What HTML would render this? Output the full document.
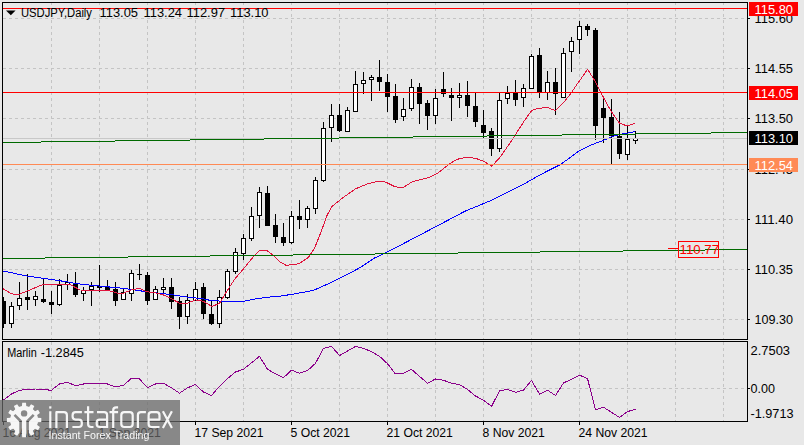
<!DOCTYPE html>
<html><head><meta charset="utf-8"><title>USDJPY Daily</title>
<style>
html,body{margin:0;padding:0;background:#e8e8e8;}
body{width:804px;height:445px;overflow:hidden;font-family:"Liberation Sans",sans-serif;}
svg{display:block;}
</style></head><body>
<svg width="804" height="445" viewBox="0 0 804 445">
<rect x="0" y="0" width="804" height="445" fill="#e8e8e8"/>
<path d="M51.5 2V339M51.5 342V421M99.5 2V339M99.5 342V421M147.5 2V339M147.5 342V421M195.5 2V339M195.5 342V421M243.5 2V339M243.5 342V421M291.5 2V339M291.5 342V421M339.5 2V339M339.5 342V421M387.5 2V339M387.5 342V421M435.5 2V339M435.5 342V421M483.5 2V339M483.5 342V421M531.5 2V339M531.5 342V421M579.5 2V339M579.5 342V421M627.5 2V339M627.5 342V421M675.5 2V339M675.5 342V421M723.5 2V339M723.5 342V421M3 18.5H747M3 68.5H747M3 118.5H747M3 169.5H747M3 219.5H747M3 269.5H747M3 319.5H747M3 388.5H747" stroke="#c4c4c4" stroke-width="1" stroke-dasharray="3 3" fill="none" shape-rendering="crispEdges"/>
<rect x="3" y="297" width="1" height="31" fill="#000"/><rect x="3" y="301" width="3" height="23" fill="#000"/>
<rect x="11" y="302" width="1" height="26" fill="#000"/>
<rect x="9" y="306" width="5" height="18" fill="#000"/>
<rect x="10" y="307" width="3" height="16" fill="#fff"/>
<rect x="19" y="282" width="1" height="28" fill="#000"/>
<rect x="17" y="298" width="5" height="8" fill="#000"/>
<rect x="18" y="299" width="3" height="6" fill="#fff"/>
<rect x="27" y="274" width="1" height="36" fill="#000"/>
<rect x="25" y="297" width="5" height="3" fill="#000"/>
<rect x="35" y="291" width="1" height="15" fill="#000"/>
<rect x="33" y="296" width="5" height="4" fill="#000"/>
<rect x="34" y="297" width="3" height="2" fill="#fff"/>
<rect x="43" y="279" width="1" height="24" fill="#000"/>
<rect x="41" y="299" width="5" height="3" fill="#000"/>
<rect x="51" y="291" width="1" height="23" fill="#000"/>
<rect x="49" y="302" width="5" height="3" fill="#000"/>
<rect x="59" y="279" width="1" height="27" fill="#000"/>
<rect x="57" y="285" width="5" height="20" fill="#000"/>
<rect x="58" y="286" width="3" height="18" fill="#fff"/>
<rect x="67" y="274" width="1" height="16" fill="#000"/>
<rect x="65" y="282" width="5" height="3" fill="#000"/>
<rect x="66" y="283" width="3" height="1" fill="#fff"/>
<rect x="75" y="272" width="1" height="25" fill="#000"/>
<rect x="73" y="284" width="5" height="11" fill="#000"/>
<rect x="83" y="287" width="1" height="14" fill="#000"/>
<rect x="81" y="290" width="5" height="4" fill="#000"/>
<rect x="82" y="291" width="3" height="2" fill="#fff"/>
<rect x="91" y="282" width="1" height="24" fill="#000"/>
<rect x="89" y="286" width="5" height="4" fill="#000"/>
<rect x="90" y="287" width="3" height="2" fill="#fff"/>
<rect x="99" y="265" width="1" height="27" fill="#000"/>
<rect x="97" y="286" width="5" height="2" fill="#000"/>
<rect x="107" y="280" width="1" height="10" fill="#000"/>
<rect x="105" y="286" width="5" height="4" fill="#000"/>
<rect x="115" y="282" width="1" height="24" fill="#000"/>
<rect x="113" y="289" width="5" height="12" fill="#000"/>
<rect x="123" y="288" width="1" height="12" fill="#000"/>
<rect x="121" y="292" width="5" height="8" fill="#000"/>
<rect x="122" y="293" width="3" height="6" fill="#fff"/>
<rect x="131" y="270" width="1" height="31" fill="#000"/>
<rect x="129" y="273" width="5" height="21" fill="#000"/>
<rect x="130" y="274" width="3" height="19" fill="#fff"/>
<rect x="139" y="264" width="1" height="16" fill="#000"/>
<rect x="137" y="274" width="5" height="1" fill="#000"/>
<rect x="147" y="272" width="1" height="33" fill="#000"/>
<rect x="145" y="275" width="5" height="26" fill="#000"/>
<rect x="155" y="286" width="1" height="14" fill="#000"/>
<rect x="153" y="289" width="5" height="11" fill="#000"/>
<rect x="154" y="290" width="3" height="9" fill="#fff"/>
<rect x="163" y="278" width="1" height="15" fill="#000"/>
<rect x="161" y="287" width="5" height="3" fill="#000"/>
<rect x="162" y="288" width="3" height="1" fill="#fff"/>
<rect x="171" y="278" width="1" height="31" fill="#000"/>
<rect x="169" y="287" width="5" height="15" fill="#000"/>
<rect x="179" y="297" width="1" height="32" fill="#000"/>
<rect x="177" y="301" width="5" height="16" fill="#000"/>
<rect x="187" y="294" width="1" height="30" fill="#000"/>
<rect x="185" y="300" width="5" height="17" fill="#000"/>
<rect x="186" y="301" width="3" height="15" fill="#fff"/>
<rect x="195" y="282" width="1" height="19" fill="#000"/>
<rect x="193" y="289" width="5" height="12" fill="#000"/>
<rect x="194" y="290" width="3" height="10" fill="#fff"/>
<rect x="203" y="283" width="1" height="36" fill="#000"/>
<rect x="201" y="287" width="5" height="27" fill="#000"/>
<rect x="211" y="300" width="1" height="25" fill="#000"/>
<rect x="209" y="314" width="5" height="10" fill="#000"/>
<rect x="219" y="290" width="1" height="38" fill="#000"/>
<rect x="217" y="297" width="5" height="27" fill="#000"/>
<rect x="218" y="298" width="3" height="25" fill="#fff"/>
<rect x="227" y="269" width="1" height="30" fill="#000"/>
<rect x="225" y="271" width="5" height="27" fill="#000"/>
<rect x="226" y="272" width="3" height="25" fill="#fff"/>
<rect x="235" y="248" width="1" height="26" fill="#000"/>
<rect x="233" y="252" width="5" height="20" fill="#000"/>
<rect x="234" y="253" width="3" height="18" fill="#fff"/>
<rect x="243" y="234" width="1" height="26" fill="#000"/>
<rect x="241" y="238" width="5" height="16" fill="#000"/>
<rect x="242" y="239" width="3" height="14" fill="#fff"/>
<rect x="251" y="207" width="1" height="34" fill="#000"/>
<rect x="249" y="216" width="5" height="23" fill="#000"/>
<rect x="250" y="217" width="3" height="21" fill="#fff"/>
<rect x="259" y="187" width="1" height="41" fill="#000"/>
<rect x="257" y="192" width="5" height="24" fill="#000"/>
<rect x="258" y="193" width="3" height="22" fill="#fff"/>
<rect x="267" y="186" width="1" height="40" fill="#000"/>
<rect x="265" y="193" width="5" height="33" fill="#000"/>
<rect x="275" y="214" width="1" height="29" fill="#000"/>
<rect x="273" y="225" width="5" height="12" fill="#000"/>
<rect x="283" y="223" width="1" height="23" fill="#000"/>
<rect x="281" y="237" width="5" height="6" fill="#000"/>
<rect x="291" y="211" width="1" height="33" fill="#000"/>
<rect x="289" y="216" width="5" height="27" fill="#000"/>
<rect x="290" y="217" width="3" height="25" fill="#fff"/>
<rect x="299" y="200" width="1" height="29" fill="#000"/>
<rect x="297" y="216" width="5" height="4" fill="#000"/>
<rect x="307" y="206" width="1" height="22" fill="#000"/>
<rect x="305" y="208" width="5" height="12" fill="#000"/>
<rect x="306" y="209" width="3" height="10" fill="#fff"/>
<rect x="315" y="177" width="1" height="37" fill="#000"/>
<rect x="313" y="180" width="5" height="29" fill="#000"/>
<rect x="314" y="181" width="3" height="27" fill="#fff"/>
<rect x="323" y="122" width="1" height="60" fill="#000"/>
<rect x="321" y="128" width="5" height="53" fill="#000"/>
<rect x="322" y="129" width="3" height="51" fill="#fff"/>
<rect x="331" y="104" width="1" height="38" fill="#000"/>
<rect x="329" y="115" width="5" height="13" fill="#000"/>
<rect x="330" y="116" width="3" height="11" fill="#fff"/>
<rect x="339" y="104" width="1" height="28" fill="#000"/>
<rect x="337" y="115" width="5" height="16" fill="#000"/>
<rect x="347" y="107" width="1" height="25" fill="#000"/>
<rect x="345" y="110" width="5" height="22" fill="#000"/>
<rect x="346" y="111" width="3" height="20" fill="#fff"/>
<rect x="355" y="71" width="1" height="41" fill="#000"/>
<rect x="353" y="84" width="5" height="28" fill="#000"/>
<rect x="354" y="85" width="3" height="26" fill="#fff"/>
<rect x="363" y="72" width="1" height="22" fill="#000"/>
<rect x="361" y="80" width="5" height="4" fill="#000"/>
<rect x="362" y="81" width="3" height="2" fill="#fff"/>
<rect x="371" y="75" width="1" height="26" fill="#000"/>
<rect x="369" y="77" width="5" height="3" fill="#000"/>
<rect x="370" y="78" width="3" height="1" fill="#fff"/>
<rect x="379" y="60" width="1" height="31" fill="#000"/>
<rect x="377" y="77" width="5" height="5" fill="#000"/>
<rect x="387" y="74" width="1" height="38" fill="#000"/>
<rect x="385" y="82" width="5" height="15" fill="#000"/>
<rect x="395" y="84" width="1" height="39" fill="#000"/>
<rect x="393" y="96" width="5" height="24" fill="#000"/>
<rect x="403" y="98" width="1" height="23" fill="#000"/>
<rect x="401" y="109" width="5" height="8" fill="#000"/>
<rect x="402" y="110" width="3" height="6" fill="#fff"/>
<rect x="411" y="79" width="1" height="32" fill="#000"/>
<rect x="409" y="87" width="5" height="22" fill="#000"/>
<rect x="410" y="88" width="3" height="20" fill="#fff"/>
<rect x="419" y="83" width="1" height="41" fill="#000"/>
<rect x="417" y="87" width="5" height="17" fill="#000"/>
<rect x="427" y="100" width="1" height="30" fill="#000"/>
<rect x="425" y="103" width="5" height="13" fill="#000"/>
<rect x="435" y="89" width="1" height="35" fill="#000"/>
<rect x="433" y="98" width="5" height="18" fill="#000"/>
<rect x="434" y="99" width="3" height="16" fill="#fff"/>
<rect x="443" y="72" width="1" height="25" fill="#000"/>
<rect x="441" y="89" width="5" height="5" fill="#000"/>
<rect x="451" y="88" width="1" height="33" fill="#000"/>
<rect x="449" y="95" width="5" height="3" fill="#000"/>
<rect x="459" y="83" width="1" height="25" fill="#000"/>
<rect x="457" y="95" width="5" height="3" fill="#000"/>
<rect x="458" y="96" width="3" height="1" fill="#fff"/>
<rect x="467" y="81" width="1" height="36" fill="#000"/>
<rect x="465" y="95" width="5" height="11" fill="#000"/>
<rect x="475" y="93" width="1" height="34" fill="#000"/>
<rect x="473" y="106" width="5" height="16" fill="#000"/>
<rect x="483" y="110" width="1" height="29" fill="#000"/>
<rect x="481" y="125" width="5" height="8" fill="#000"/>
<rect x="491" y="128" width="1" height="28" fill="#000"/>
<rect x="489" y="131" width="5" height="18" fill="#000"/>
<rect x="499" y="93" width="1" height="59" fill="#000"/>
<rect x="497" y="100" width="5" height="49" fill="#000"/>
<rect x="498" y="101" width="3" height="47" fill="#fff"/>
<rect x="507" y="86" width="1" height="18" fill="#000"/>
<rect x="505" y="93" width="5" height="6" fill="#000"/>
<rect x="506" y="94" width="3" height="4" fill="#fff"/>
<rect x="515" y="80" width="1" height="26" fill="#000"/>
<rect x="513" y="93" width="5" height="7" fill="#000"/>
<rect x="523" y="84" width="1" height="23" fill="#000"/>
<rect x="521" y="88" width="5" height="10" fill="#000"/>
<rect x="522" y="89" width="3" height="8" fill="#fff"/>
<rect x="531" y="54" width="1" height="35" fill="#000"/>
<rect x="529" y="56" width="5" height="33" fill="#000"/>
<rect x="530" y="57" width="3" height="31" fill="#fff"/>
<rect x="539" y="48" width="1" height="50" fill="#000"/>
<rect x="537" y="55" width="5" height="38" fill="#000"/>
<rect x="547" y="71" width="1" height="29" fill="#000"/>
<rect x="545" y="82" width="5" height="11" fill="#000"/>
<rect x="546" y="83" width="3" height="9" fill="#fff"/>
<rect x="555" y="68" width="1" height="47" fill="#000"/>
<rect x="553" y="82" width="5" height="12" fill="#000"/>
<rect x="563" y="48" width="1" height="50" fill="#000"/>
<rect x="561" y="53" width="5" height="45" fill="#000"/>
<rect x="562" y="54" width="3" height="43" fill="#fff"/>
<rect x="571" y="37" width="1" height="35" fill="#000"/>
<rect x="569" y="41" width="5" height="11" fill="#000"/>
<rect x="570" y="42" width="3" height="9" fill="#fff"/>
<rect x="579" y="21" width="1" height="33" fill="#000"/>
<rect x="577" y="26" width="5" height="14" fill="#000"/>
<rect x="578" y="27" width="3" height="12" fill="#fff"/>
<rect x="587" y="24" width="1" height="12" fill="#000"/>
<rect x="585" y="26" width="5" height="4" fill="#000"/>
<rect x="595" y="28" width="1" height="112" fill="#000"/>
<rect x="593" y="30" width="5" height="96" fill="#000"/>
<rect x="603" y="98" width="1" height="45" fill="#000"/>
<rect x="601" y="108" width="5" height="10" fill="#000"/>
<rect x="611" y="99" width="1" height="65" fill="#000"/>
<rect x="609" y="117" width="5" height="19" fill="#000"/>
<rect x="619" y="112" width="1" height="47" fill="#000"/>
<rect x="617" y="136" width="5" height="18" fill="#000"/>
<rect x="627" y="126" width="1" height="34" fill="#000"/>
<rect x="625" y="139" width="5" height="16" fill="#000"/>
<rect x="626" y="140" width="3" height="14" fill="#fff"/>
<rect x="635" y="131" width="1" height="13" fill="#000"/>
<rect x="633" y="138" width="5" height="3" fill="#000"/>
<rect x="634" y="139" width="3" height="1" fill="#fff"/>
<polyline points="3.0,271.0 27.0,276.0 50.6,279.4 67.5,281.9 75.9,283.6 100.0,286.1 122.0,288.2 147.0,291.8 170.4,294.5 188.4,297.2 203.0,298.7 211.0,300.6 219.0,301.0 245.0,301.0 257.0,298.7 272.0,296.8 280.0,296.2 295.7,293.7 313.0,290.5 327.2,284.3 343.0,276.4 358.6,268.5 374.4,258.1 385.4,252.8 405.8,242.4 420.0,234.9 435.2,227.0 465.0,211.2 491.8,200.2 523.2,184.5 536.2,177.0 550.0,169.7 561.0,164.2 578.6,151.2 591.0,145.0 603.4,140.4 611.5,136.7 619.5,134.6 635.5,131.5" fill="none" stroke="#0000ff" stroke-width="1" stroke-linejoin="round" shape-rendering="crispEdges"/>
<polyline points="3.0,288.7 11.0,293.5 15.0,294.6 20.0,294.0 43.0,284.5 70.0,284.5 80.0,290.0 95.0,290.4 107.6,290.4 113.0,291.8 118.4,293.3 123.4,293.3 131.0,290.0 139.4,288.2 147.0,291.8 156.0,293.0 163.3,294.9 170.4,298.1 179.4,303.1 187.5,303.1 195.6,299.9 203.5,301.3 211.8,306.5 219.4,303.4 227.6,290.0 235.4,278.2 243.4,269.0 251.0,259.5 259.0,250.8 267.3,250.8 274.0,255.7 280.0,262.0 286.3,265.4 298.9,263.8 308.3,257.5 314.6,248.1 320.9,232.4 327.2,215.0 331.9,206.6 342.9,197.7 355.5,188.9 368.0,183.6 379.0,181.1 385.4,182.0 394.8,186.7 402.7,187.7 412.0,182.0 419.4,179.8 428.9,177.6 438.3,172.8 449.3,164.0 457.2,159.3 466.6,157.1 476.0,158.4 484.0,161.5 491.8,166.2 499.7,157.7 510.7,142.0 515.5,134.6 523.4,122.2 531.4,110.8 536.2,108.8 547.6,107.3 555.4,110.8 563.5,102.6 570.3,94.3 576.5,85.0 587.7,69.3 595.5,82.0 603.4,97.4 611.5,111.9 619.5,123.3 627.5,126.0 635.0,123.3" fill="none" stroke="#e0143c" stroke-width="1" stroke-linejoin="round" shape-rendering="crispEdges"/>
<rect x="3" y="138" width="744" height="1" fill="#c8c8c8"/>
<rect x="3" y="8" width="744" height="1" fill="#ff0000"/>
<rect x="3" y="92" width="744" height="1" fill="#ff0000"/>
<rect x="3" y="164" width="744" height="1" fill="#ff8a55"/>
<rect x="3" y="142" width="38" height="1" fill="#006a00"/>
<rect x="41" y="141" width="74" height="1" fill="#006a00"/>
<rect x="115" y="140" width="75" height="1" fill="#006a00"/>
<rect x="190" y="139" width="74" height="1" fill="#006a00"/>
<rect x="264" y="138" width="75" height="1" fill="#006a00"/>
<rect x="339" y="137" width="74" height="1" fill="#006a00"/>
<rect x="413" y="136" width="74" height="1" fill="#006a00"/>
<rect x="487" y="135" width="75" height="1" fill="#006a00"/>
<rect x="562" y="134" width="74" height="1" fill="#006a00"/>
<rect x="636" y="133" width="75" height="1" fill="#006a00"/>
<rect x="711" y="132" width="36" height="1" fill="#006a00"/>
<rect x="3" y="258" width="42" height="1" fill="#006a00"/>
<rect x="45" y="257" width="83" height="1" fill="#006a00"/>
<rect x="128" y="256" width="82" height="1" fill="#006a00"/>
<rect x="210" y="255" width="83" height="1" fill="#006a00"/>
<rect x="293" y="254" width="82" height="1" fill="#006a00"/>
<rect x="375" y="253" width="83" height="1" fill="#006a00"/>
<rect x="458" y="252" width="82" height="1" fill="#006a00"/>
<rect x="540" y="251" width="83" height="1" fill="#006a00"/>
<rect x="623" y="250" width="82" height="1" fill="#006a00"/>
<rect x="705" y="249" width="42" height="1" fill="#006a00"/>
<polyline points="3.5,400.0 11.5,394.0 19.5,390.2 27.5,389.5 35.5,389.0 43.5,389.7 51.5,390.2 59.5,384.0 67.5,382.3 75.5,385.8 83.5,384.0 91.5,383.3 99.5,383.5 107.5,384.0 115.5,387.0 123.5,385.3 131.5,378.3 139.5,379.0 147.5,387.8 155.5,384.0 163.5,383.3 171.5,387.8 179.5,393.2 187.5,387.8 195.5,384.5 203.5,392.1 211.5,395.5 219.5,386.3 227.5,378.5 235.5,372.0 243.5,369.3 251.5,362.8 259.5,356.3 267.5,369.3 275.5,373.8 283.5,377.7 291.5,370.1 299.5,373.3 307.5,370.6 315.5,363.3 323.5,348.4 331.5,346.4 339.5,355.5 347.5,351.1 355.5,346.4 363.5,348.4 371.5,351.6 379.5,356.3 387.5,363.7 395.5,374.0 403.5,373.3 411.5,369.3 419.5,376.4 427.5,383.2 435.5,379.0 443.5,380.3 451.5,383.2 459.5,384.5 467.5,389.4 475.5,396.0 483.5,400.2 491.5,406.4 499.5,391.0 507.5,389.4 515.5,392.3 523.5,390.2 531.5,380.3 539.5,394.2 547.5,390.2 555.5,395.5 563.5,382.9 571.5,379.3 579.5,375.2 587.5,378.5 595.5,410.0 603.5,407.2 611.5,412.4 619.5,417.4 627.5,411.6 635.5,409.2" fill="none" stroke="#8b008b" stroke-width="1" stroke-linejoin="round" shape-rendering="crispEdges"/>
<rect x="2.5" y="2.5" width="745" height="337" fill="none" stroke="#000" stroke-width="1" shape-rendering="crispEdges"/>
<rect x="2.5" y="341.5" width="745" height="80" fill="none" stroke="#000" stroke-width="1" shape-rendering="crispEdges"/>
<rect x="748" y="18" width="2" height="1" fill="#000"/>
<rect x="748" y="68" width="2" height="1" fill="#000"/>
<rect x="748" y="118" width="2" height="1" fill="#000"/>
<rect x="748" y="169" width="2" height="1" fill="#000"/>
<rect x="748" y="219" width="2" height="1" fill="#000"/>
<rect x="748" y="269" width="2" height="1" fill="#000"/>
<rect x="748" y="319" width="2" height="1" fill="#000"/>
<rect x="748" y="388" width="2" height="1" fill="#000"/>
<rect x="3" y="422" width="1" height="3" fill="#000"/>
<rect x="99" y="422" width="1" height="3" fill="#000"/>
<rect x="195" y="422" width="1" height="3" fill="#000"/>
<rect x="291" y="422" width="1" height="3" fill="#000"/>
<rect x="387" y="422" width="1" height="3" fill="#000"/>
<rect x="483" y="422" width="1" height="3" fill="#000"/>
<rect x="579" y="422" width="1" height="3" fill="#000"/>
<text x="754.5" y="23.2" font-size="12" fill="#000" font-family="Liberation Sans, sans-serif" textLength="38.5" lengthAdjust="spacingAndGlyphs" >115.60</text>
<text x="754.5" y="73.2" font-size="12" fill="#000" font-family="Liberation Sans, sans-serif" textLength="38.5" lengthAdjust="spacingAndGlyphs" >114.55</text>
<text x="754.5" y="123.2" font-size="12" fill="#000" font-family="Liberation Sans, sans-serif" textLength="38.5" lengthAdjust="spacingAndGlyphs" >113.50</text>
<text x="754.5" y="174.2" font-size="12" fill="#000" font-family="Liberation Sans, sans-serif" textLength="38.5" lengthAdjust="spacingAndGlyphs" >112.45</text>
<text x="754.5" y="224.2" font-size="12" fill="#000" font-family="Liberation Sans, sans-serif" textLength="38.5" lengthAdjust="spacingAndGlyphs" >111.40</text>
<text x="754.5" y="274.2" font-size="12" fill="#000" font-family="Liberation Sans, sans-serif" textLength="38.5" lengthAdjust="spacingAndGlyphs" >110.35</text>
<text x="754.5" y="324.2" font-size="12" fill="#000" font-family="Liberation Sans, sans-serif" textLength="38.5" lengthAdjust="spacingAndGlyphs" >109.30</text>
<text x="750.5" y="355" font-size="12" fill="#000" font-family="Liberation Sans, sans-serif" textLength="39.5" lengthAdjust="spacingAndGlyphs" >2.7503</text>
<text x="750.5" y="393" font-size="12" fill="#000" font-family="Liberation Sans, sans-serif" textLength="24.5" lengthAdjust="spacingAndGlyphs" >0.00</text>
<text x="750.5" y="418" font-size="12" fill="#000" font-family="Liberation Sans, sans-serif" textLength="43" lengthAdjust="spacingAndGlyphs" >-1.9713</text>
<rect x="749" y="2" width="49" height="14" fill="#ff0000"/>
<text x="754.5" y="13.5" font-size="12" fill="#fff" font-family="Liberation Sans, sans-serif" textLength="38.5" lengthAdjust="spacingAndGlyphs" >115.80</text>
<rect x="749" y="86" width="49" height="14" fill="#ff0000"/>
<text x="754.5" y="97.5" font-size="12" fill="#fff" font-family="Liberation Sans, sans-serif" textLength="38.5" lengthAdjust="spacingAndGlyphs" >114.05</text>
<rect x="749" y="131" width="49" height="14" fill="#000000"/>
<text x="754.5" y="142.5" font-size="12" fill="#fff" font-family="Liberation Sans, sans-serif" textLength="38.5" lengthAdjust="spacingAndGlyphs" >113.10</text>
<rect x="749" y="158" width="49" height="14" fill="#ff8a55"/>
<text x="754.5" y="169.5" font-size="12" fill="#fff" font-family="Liberation Sans, sans-serif" textLength="38.5" lengthAdjust="spacingAndGlyphs" >112.54</text>
<rect x="668" y="248" width="11" height="1" fill="#ff0000"/>
<rect x="678.5" y="241.5" width="40" height="16" fill="none" stroke="#ff0000" stroke-width="1" shape-rendering="crispEdges"/>
<text x="679.6" y="254.3" font-size="12" fill="#ff0000" font-family="Liberation Sans, sans-serif" textLength="39.5" lengthAdjust="spacingAndGlyphs" >110.77</text>
<path d="M6 10.5H15.6L10.8 15.2Z" fill="#000"/>
<text x="21" y="17" font-size="12" fill="#000" font-family="Liberation Sans, sans-serif" textLength="71" lengthAdjust="spacingAndGlyphs" >USDJPY,Daily</text>
<text x="99.5" y="17" font-size="12" fill="#000" font-family="Liberation Sans, sans-serif" textLength="38.5" lengthAdjust="spacingAndGlyphs" >113.05</text>
<text x="143.5" y="17" font-size="12" fill="#000" font-family="Liberation Sans, sans-serif" textLength="38.5" lengthAdjust="spacingAndGlyphs" >113.24</text>
<text x="186.5" y="17" font-size="12" fill="#000" font-family="Liberation Sans, sans-serif" textLength="38.5" lengthAdjust="spacingAndGlyphs" >112.97</text>
<text x="230" y="17" font-size="12" fill="#000" font-family="Liberation Sans, sans-serif" textLength="38.5" lengthAdjust="spacingAndGlyphs" >113.10</text>
<text x="7.2" y="357" font-size="12" fill="#000" font-family="Liberation Sans, sans-serif" textLength="29.5" lengthAdjust="spacingAndGlyphs" >Marlin</text>
<text x="40.8" y="357" font-size="12" fill="#000" font-family="Liberation Sans, sans-serif" textLength="43" lengthAdjust="spacingAndGlyphs" >-1.2845</text>
<text x="2.5" y="437" font-size="12.2" fill="#000" font-family="Liberation Sans, sans-serif" >16 Aug 2021</text>
<text x="98.5" y="437" font-size="12.2" fill="#000" font-family="Liberation Sans, sans-serif" >1 Sep 2021</text>
<text x="194.5" y="437" font-size="12.2" fill="#000" font-family="Liberation Sans, sans-serif" >17 Sep 2021</text>
<text x="290.5" y="437" font-size="12.2" fill="#000" font-family="Liberation Sans, sans-serif" >5 Oct 2021</text>
<text x="386.5" y="437" font-size="12.2" fill="#000" font-family="Liberation Sans, sans-serif" >21 Oct 2021</text>
<text x="482.5" y="437" font-size="12.2" fill="#000" font-family="Liberation Sans, sans-serif" >8 Nov 2021</text>
<text x="578.5" y="437" font-size="12.2" fill="#000" font-family="Liberation Sans, sans-serif" >24 Nov 2021</text>
<rect x="0" y="400" width="180" height="45" fill="#666666" fill-opacity="0.74"/>
<g opacity="0.93">
<defs><mask id="gm" maskUnits="userSpaceOnUse" x="0" y="398" width="50" height="47">
<path d="M21.90 406.58 L22.20 402.80 L26.00 402.80 L26.30 406.58 L28.91 407.28 L31.05 404.16 L34.34 406.06 L32.71 409.48 L34.62 411.39 L38.04 409.76 L39.94 413.05 L36.82 415.19 L37.52 417.80 L41.30 418.10 L41.30 421.90 L37.52 422.20 L36.82 424.81 L39.94 426.95 L38.04 430.24 L34.62 428.61 L32.71 430.52 L34.34 433.94 L31.05 435.84 L28.91 432.72 L26.30 433.42 L26.00 437.20 L22.20 437.20 L21.90 433.42 L19.29 432.72 L17.15 435.84 L13.86 433.94 L15.49 430.52 L13.58 428.61 L10.16 430.24 L8.26 426.95 L11.38 424.81 L10.68 422.20 L6.90 421.90 L6.90 418.10 L10.68 417.80 L11.38 415.19 L8.26 413.05 L10.16 409.76 L13.58 411.39 L15.49 409.48 L13.86 406.06 L17.15 404.16 L19.29 407.28Z" fill="#fff"/>
<circle cx="24.1" cy="420.0" r="13.9" fill="#fff"/>
<circle cx="24.1" cy="413.4" r="3.2" fill="#000"/>
<path d="M14.500000000000002 414.8 L20.6 421.0 V439.0 M33.7 414.8 L27.6 421.0 V439.0" stroke="#000" stroke-width="2.6" fill="none"/>
</mask></defs>
<rect x="0" y="398" width="50" height="47" fill="#fff" mask="url(#gm)"/>
<path d="M50.3 411.2V428.1M56.4 428.1V412.2H63.9Q66.9 412.2 66.9 415.2V428.1M81.9 412.2H75.6Q72.6 412.2 72.6 415.2V416.6Q72.6 419.6 75.6 419.6H78.8Q81.8 419.6 81.8 422.6V424Q81.8 427 78.8 427H72.4M88.1 406.3V424Q88.1 427 91.1 427H93.5M84.4 412.2H93.5M97 412.2H104.1Q107.1 412.2 107.1 415.2V428.1M107.1 419.6H99.7Q96.7 419.6 96.7 422.6V424Q96.7 427 99.7 427H107.1M113.2 428.1V410.4Q113.2 407.4 116.2 407.4H118.1M109.5 412.2H118.1M124.3 412.2H129.7Q132.7 412.2 132.7 415.2V424Q132.7 427 129.7 427H124.3Q121.3 427 121.3 424V415.2Q121.3 412.2 124.3 412.2ZM137.9 428.1V415.2Q137.9 412.2 140.9 412.2H145.9M148.6 419.6H159.5V415.2Q159.5 412.2 156.5 412.2H151.6Q148.6 412.2 148.6 415.2V424Q148.6 427 151.6 427H159.5M162.9 411.2L171.9 428.1M171.9 411.2L162.9 428.1" fill="none" stroke="#fff" stroke-width="2.2" stroke-linejoin="round"/>
<rect x="49.2" y="406.3" width="2.2" height="2.3" fill="#fff"/>
<text x="48.5" y="439.3" font-size="11" fill="#fff" font-family="Liberation Sans, sans-serif" textLength="101" lengthAdjust="spacingAndGlyphs" >Instant Forex Trading</text>
</g>
</svg>
</body></html>
